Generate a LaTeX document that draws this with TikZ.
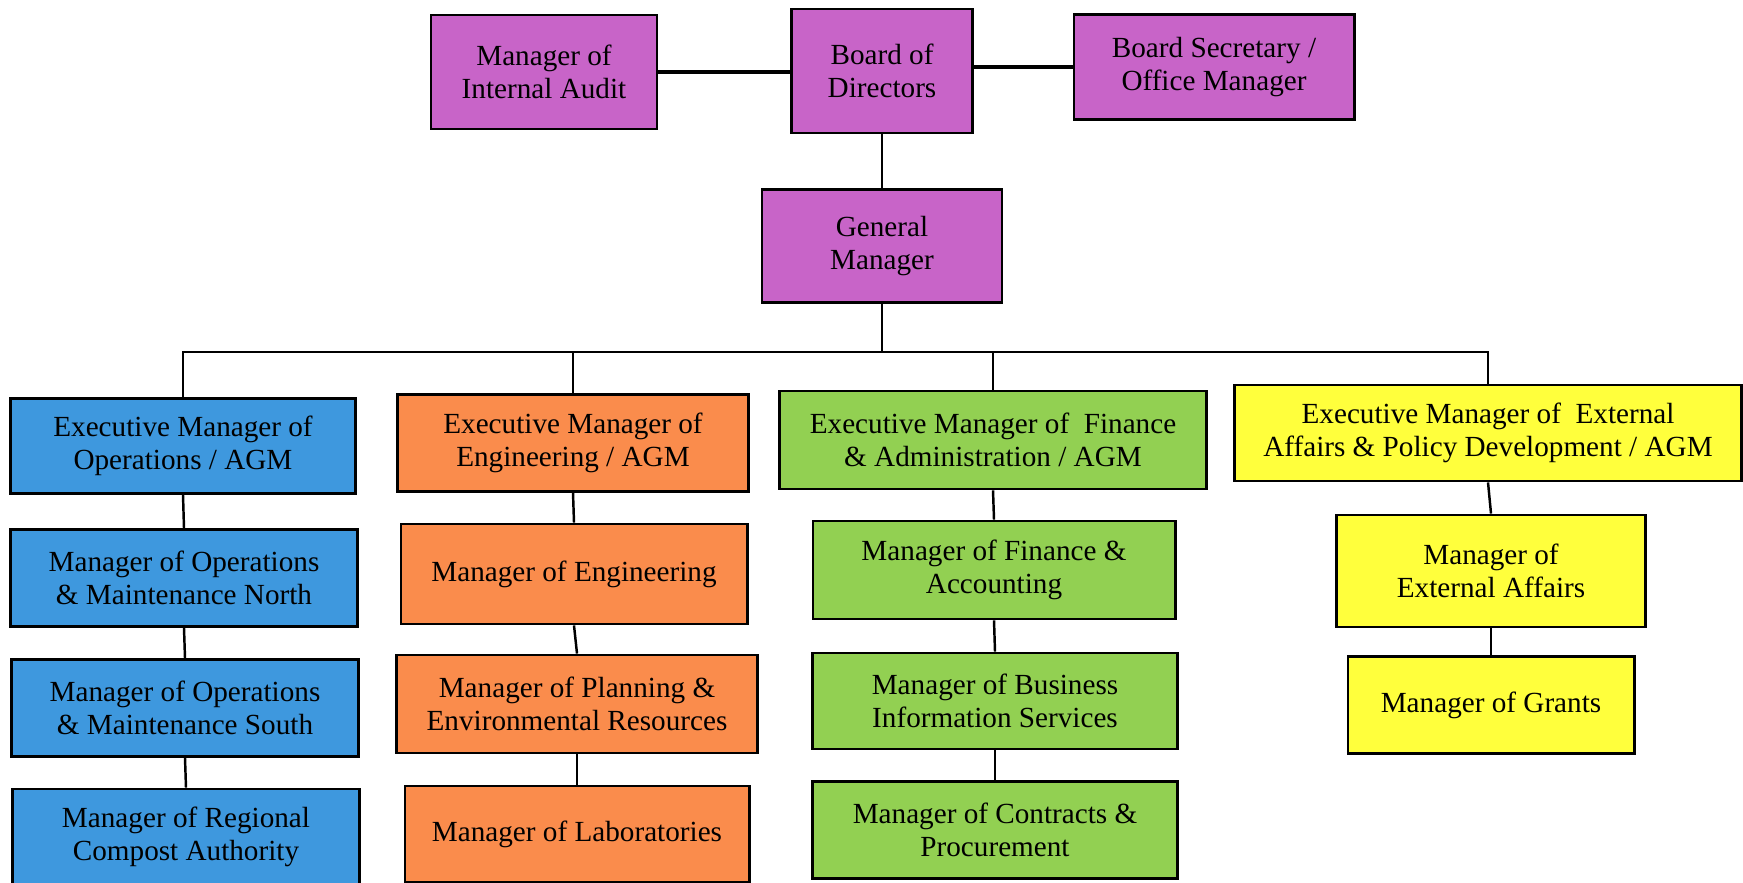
\documentclass[tikz,border=0pt]{standalone}
\usepackage{fontspec}
\setmainfont{Liberation Serif}
\definecolor{purp}{RGB}{200,100,200}
\definecolor{opsblue}{RGB}{62,152,222}
\definecolor{engorange}{RGB}{250,140,76}
\definecolor{fingreen}{RGB}{146,208,82}
\definecolor{extyellow}{RGB}{255,255,60}
\begin{document}
\begin{tikzpicture}[x=0.01cm,y=-0.01cm,
	box/.style={draw, line width=0.8pt, align=center, inner sep=0pt, font=\fontsize{8.3}{9.4}\selectfont},
	link/.style={line width=0.7pt}]
	\useasboundingbox[fill=white] (0,0) rectangle (1743,882);
	% top level
	\node[box, fill=purp, minimum width=22.6mm, minimum height=11.4mm] (audit) at (544,72) {Manager of\\Internal Audit};
	\node[box, fill=purp, minimum width=18.1mm, minimum height=12.4mm] (bod) at (882,71) {Board of\\Directors};
	\node[box, fill=purp, minimum width=28mm, minimum height=10.5mm] (sec) at (1214,67) {Board Secretary /\\Office Manager};
	\node[box, fill=purp, minimum width=24mm, minimum height=11.3mm] (gm) at (882,246) {General\\Manager};
	\coordinate (bus) at (882,352);
	
	% executive managers
	\node[box, fill=opsblue, minimum width=34.5mm, minimum height=9.5mm] (ops) at (183,446) {Executive Manager of\\Operations / AGM};
	\node[box, fill=engorange, minimum width=35mm, minimum height=9.7mm] (eng) at (573,443) {Executive Manager of\\Engineering / AGM};
	\node[box, fill=fingreen, minimum width=42.7mm, minimum height=9.8mm] (fin) at (993,440) {Executive Manager of\ \ Finance\\\& Administration / AGM};
	\node[box, fill=extyellow, minimum width=50.7mm, minimum height=9.6mm] (ext) at (1488,433) {Executive Manager of\ \ External\\Affairs \& Policy Development / AGM};
	
	% operations
	\node[box, fill=opsblue, minimum width=34.6mm, minimum height=9.7mm] (opsa) at (184,578) {Manager of Operations\\\& Maintenance North};
	\node[box, fill=opsblue, minimum width=34.6mm, minimum height=9.7mm] (opsb) at (185,708) {Manager of Operations\\\& Maintenance South};
	\node[box, fill=opsblue, minimum width=34.6mm, minimum height=9.6mm] (opsc) at (186,837) {Manager of Regional\\Compost Authority};
	
	% engineering
	\node[box, fill=engorange, minimum width=34.6mm, minimum height=10mm] (enga) at (574,574) {Manager of Engineering};
	\node[box, fill=engorange, minimum width=36mm, minimum height=9.8mm] (engb) at (577,704) {Manager of Planning \&\\Environmental Resources};
	\node[box, fill=engorange, minimum width=34.4mm, minimum height=9.6mm] (engc) at (577,834) {Manager of Laboratories};
	
	% finance
	\node[box, fill=fingreen, minimum width=36.2mm, minimum height=9.8mm] (fina) at (994,570) {Manager of Finance \&\\Accounting};
	\node[box, fill=fingreen, minimum width=36.5mm, minimum height=9.6mm] (finb) at (995,701) {Manager of Business\\Information Services};
	\node[box, fill=fingreen, minimum width=36.5mm, minimum height=9.7mm] (finc) at (995,830) {Manager of Contracts \&\\Procurement};
	
	% external affairs
	\node[box, fill=extyellow, minimum width=30.9mm, minimum height=11.2mm] (exta) at (1491,571) {Manager of\\External Affairs};
	\node[box, fill=extyellow, minimum width=28.6mm, minimum height=9.7mm] (extb) at (1491,705) {Manager of Grants};
	
	\draw[link, line width=1pt] (audit.east) -- (audit.east -| bod.west);
	\draw[link, line width=1pt] (bod.east |- sec.west) -- (sec.west);
	\draw[link] (bod.south) -- (gm.north);
	\draw[link] (gm.south) -- (bus);
	\draw[link] (ops.north) |- (bus);
	\draw[link] (eng.north) |- (bus);
	\draw[link] (fin.north) |- (bus);
	\draw[link] (ext.north) |- (bus);
	
	\draw[link] (ops.south) -- (opsa.north);
	\draw[link] (opsa.south) -- (opsb.north);
	\draw[link] (opsb.south) -- (opsc.north);
	\draw[link] (eng.south) -- (enga.north);
	\draw[link] (enga.south) -- (engb.north);
	\draw[link] (engb.south) -- (engc.north);
	\draw[link] (fin.south) -- (fina.north);
	\draw[link] (fina.south) -- (finb.north);
	\draw[link] (finb.south) -- (finc.north);
	\draw[link] (ext.south) -- (exta.north);
	\draw[link] (exta.south) -- (extb.north);
\end{tikzpicture}
\end{document}
